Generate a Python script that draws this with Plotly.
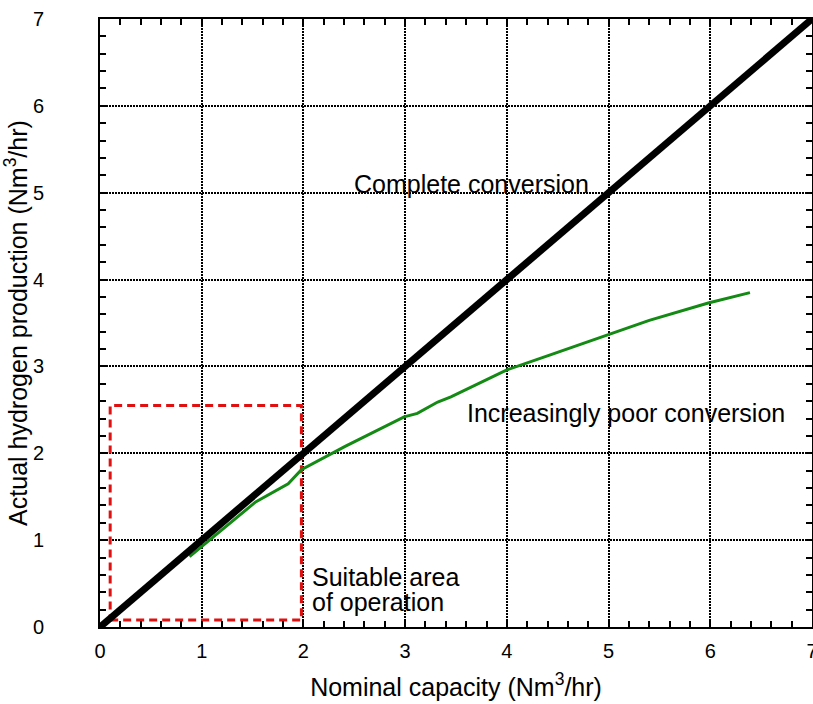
import plotly.graph_objects as go

# Data
ideal_x = [0, 7]
ideal_y = [0, 7]

actual_x = [0.88, 1.27, 1.53, 1.85, 1.98, 2.41, 2.73, 2.99, 3.12, 3.32, 3.45, 4.0, 4.42, 4.99, 5.40, 5.98, 6.39]
actual_y = [0.81, 1.19, 1.44, 1.65, 1.81, 2.08, 2.27, 2.42, 2.46, 2.59, 2.65, 2.96, 3.13, 3.36, 3.53, 3.73, 3.85]

box_x = [0.1, 1.98, 1.98, 0.1, 0.1]
box_y = [0.08, 0.08, 2.55, 2.55, 0.08]

tick_vals = [0, 1, 2, 3, 4, 5, 6, 7]

FONT = "Arial, Liberation Sans, Helvetica, sans-serif"

fig = go.Figure()
fig.add_trace(go.Scatter(x=box_x, y=box_y, mode="lines",
                         line=dict(color="#e01010", width=3, dash="8px,5px"),
                         hoverinfo="skip", showlegend=False))
fig.add_trace(go.Scatter(x=actual_x, y=actual_y, mode="lines",
                         line=dict(color="#138a13", width=3),
                         showlegend=False))
fig.add_trace(go.Scatter(x=ideal_x, y=ideal_y, mode="lines",
                         line=dict(color="black", width=7),
                         showlegend=False))

axis_common = dict(
    range=[0, 7], tickvals=tick_vals, ticks="inside", ticklen=6, tickwidth=1.5,
    tickcolor="black", showline=True, linecolor="black", linewidth=2,
    mirror="ticks", showgrid=True, gridcolor="black", gridwidth=2,
    griddash="2px,1px", zeroline=False, automargin=False,
    ticklabeloverflow="allow",
    tickfont=dict(size=20, color="black", family=FONT),
    minor=dict(dtick=0.2, ticks="inside", ticklen=6, tickwidth=1.5, tickcolor="black", showgrid=False),
)

fig.update_xaxes(**axis_common, ticklabelstandoff=5,
                 title=dict(text="Nominal capacity (Nm<sup>3</sup>/hr)",
                            font=dict(size=25, color="black", family=FONT), standoff=17))
fig.update_yaxes(**axis_common, ticklabelstandoff=50,
                 title=dict(text="Actual hydrogen production (Nm<sup>3</sup>/hr)",
                            font=dict(size=25, color="black", family=FONT), standoff=9))

ann_font = dict(size=25, color="black", family=FONT)
fig.add_annotation(x=3.65, y=5.1, text="Complete conversion", showarrow=False, font=ann_font)
fig.add_annotation(x=5.17, y=2.46, text="Increasingly poor conversion", showarrow=False,
                   font=ann_font)
fig.add_annotation(x=2.06, y=0.57, text="Suitable area", showarrow=False,
                   font=ann_font, xanchor="left")
fig.add_annotation(x=2.06, y=0.285, text="of operation", showarrow=False,
                   font=ann_font, xanchor="left")

fig.update_layout(
    width=813, height=704,
    margin=dict(l=100, r=1, t=19, b=77, autoexpand=False),
    plot_bgcolor="white", paper_bgcolor="white",
    font=dict(family=FONT, color="black"),
)

# remove the page's default body margin so the figure sits at the window's top-left corner
fig.write_html("out.html", config={"displayModeBar": False},
               post_script="document.body.style.margin='0';document.body.style.overflow='hidden';")
